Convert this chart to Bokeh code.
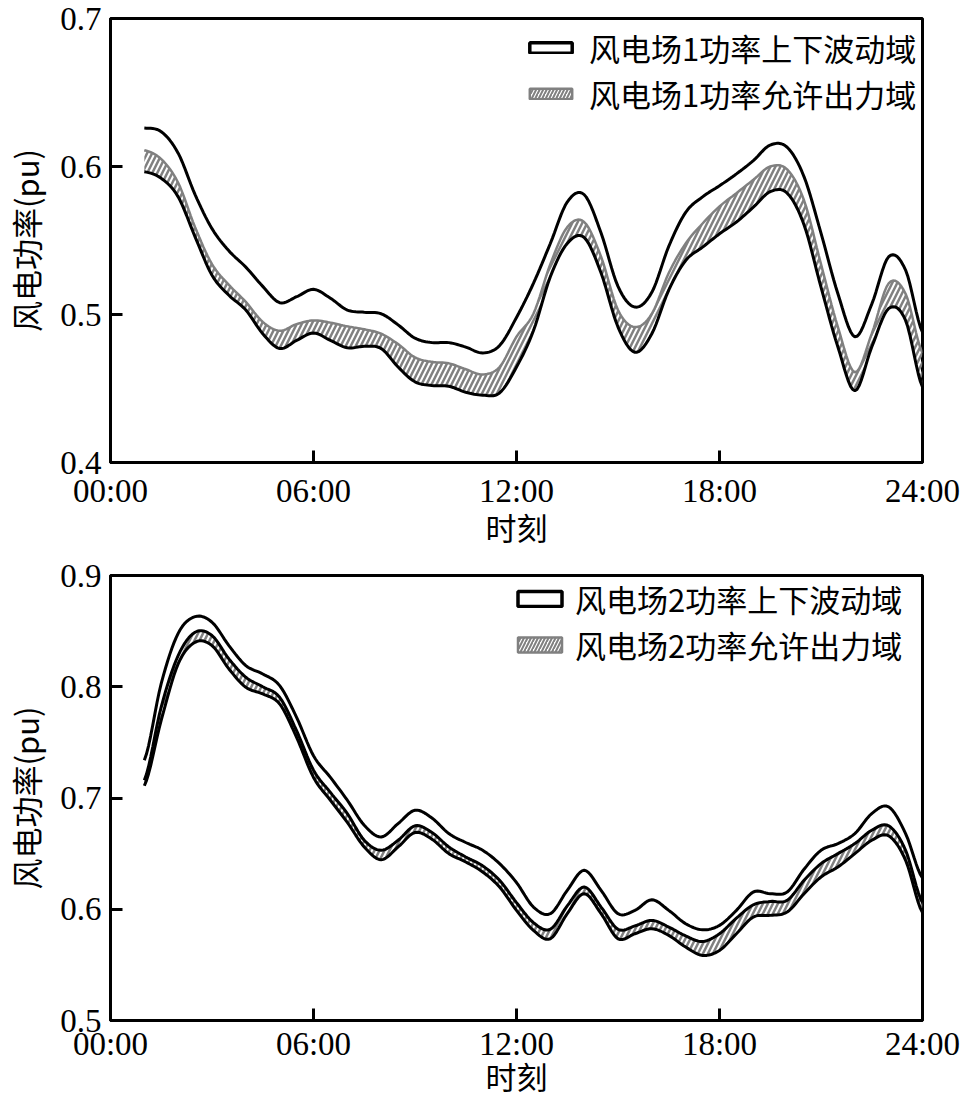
from bokeh.plotting import figure
from bokeh.layouts import column
from bokeh.models import FixedTicker, Legend, LegendItem, ColumnDataSource, Range1d
from bokeh.embed import file_html
from bokeh.resources import INLINE

# ---------------- data ----------------
hours = [1.0, 1.5, 2.0, 2.5, 3.0, 3.5, 4.0, 4.5, 5.0, 5.5, 6.0, 6.5, 7.0, 7.5, 8.0, 8.5,
         9.0, 9.5, 10.0, 10.5, 11.0, 11.5, 12.0, 12.5, 13.0, 13.5, 14.0, 14.5, 15.0, 15.5,
         16.0, 16.5, 17.0, 17.5, 18.0, 18.5, 19.0, 19.5, 20.0, 20.5, 21.0, 21.5, 22.0, 22.5,
         23.0, 23.5, 24.0]

x_ticks = [0, 6, 12, 18, 24]
x_tick_labels = ["00:00", "06:00", "12:00", "18:00", "24:00"]

# wind farm 1
wf1_upper = [0.626, 0.6235, 0.609, 0.581, 0.558, 0.543, 0.532, 0.519, 0.508, 0.512, 0.517, 0.511,
             0.503, 0.5015, 0.5005, 0.493, 0.484, 0.481, 0.481, 0.478, 0.474, 0.479, 0.498, 0.521,
             0.548, 0.576, 0.581, 0.555, 0.519, 0.505, 0.515, 0.546, 0.569, 0.5795, 0.587, 0.595,
             0.604, 0.6145, 0.613, 0.593, 0.555, 0.514, 0.485, 0.507, 0.539, 0.530, 0.488]
wf1_allowed_top = [0.611, 0.605, 0.589, 0.559, 0.534, 0.520, 0.5085, 0.495, 0.489, 0.4935, 0.496, 0.4945,
                   0.492, 0.490, 0.487, 0.480, 0.471, 0.468, 0.467, 0.463, 0.4595, 0.4645, 0.485, 0.5005,
                   0.534, 0.559, 0.5625, 0.539, 0.503, 0.4915, 0.5005, 0.528, 0.548, 0.5615, 0.573, 0.582,
                   0.591, 0.600, 0.598, 0.577, 0.534, 0.4915, 0.461, 0.487, 0.521, 0.514, 0.474]
wf1_lower = [0.5965, 0.592, 0.5795, 0.5525, 0.5265, 0.513, 0.503, 0.487, 0.477, 0.4825, 0.4875, 0.4825,
             0.4775, 0.4785, 0.477, 0.4645, 0.4545, 0.452, 0.4515, 0.4475, 0.4455, 0.447, 0.4645, 0.489,
             0.5255, 0.548, 0.552, 0.528, 0.4915, 0.4745, 0.487, 0.5165, 0.5365, 0.5455, 0.5545, 0.5625,
             0.5725, 0.583, 0.582, 0.5605, 0.5185, 0.478, 0.4485, 0.478, 0.504, 0.496, 0.451]

# wind farm 2
wf2_upper = [0.734, 0.803, 0.848, 0.863, 0.858, 0.837, 0.819, 0.8115, 0.801, 0.7725, 0.738, 0.7185,
             0.698, 0.6755, 0.665, 0.677, 0.689, 0.682, 0.668, 0.660, 0.653, 0.641, 0.624, 0.602,
             0.596, 0.617, 0.635, 0.617, 0.596, 0.599, 0.6085, 0.599, 0.587, 0.5815, 0.5855, 0.599,
             0.6155, 0.614, 0.6155, 0.636, 0.653, 0.659, 0.668, 0.686, 0.692, 0.668, 0.628]
wf2_allowed_top = [0.716, 0.782, 0.828, 0.849, 0.846, 0.825, 0.8085, 0.800, 0.7905, 0.7605, 0.725, 0.705,
                   0.686, 0.662, 0.653, 0.662, 0.675, 0.669, 0.656, 0.647, 0.639, 0.626, 0.606, 0.588,
                   0.582, 0.603, 0.620, 0.602, 0.582, 0.585, 0.590, 0.584, 0.576, 0.571, 0.578, 0.592,
                   0.604, 0.607, 0.608, 0.626, 0.641, 0.650, 0.659, 0.671, 0.675, 0.653, 0.606]
wf2_lower = [0.711, 0.770, 0.8205, 0.840, 0.837, 0.816, 0.7995, 0.7935, 0.7845, 0.7545, 0.7185, 0.698,
             0.678, 0.656, 0.6445, 0.656, 0.669, 0.663, 0.650, 0.6425, 0.6335, 0.620, 0.599, 0.581,
             0.5735, 0.596, 0.614, 0.596, 0.5735, 0.578, 0.5825, 0.5765, 0.566, 0.5585, 0.563, 0.578,
             0.593, 0.5945, 0.5975, 0.614, 0.629, 0.638, 0.650, 0.662, 0.666, 0.644, 0.597]

labels1 = ["风电场1功率上下波动域", "风电场1功率允许出力域"]
labels2 = ["风电场2功率上下波动域", "风电场2功率允许出力域"]
y_ticks1 = [0.4, 0.5, 0.6, 0.7]
y_ticks2 = [0.5, 0.6, 0.7, 0.8, 0.9]
x_label = "时刻"
y_label = "风电功率(pu)"

CJK = "Noto Sans CJK SC"
SERIF = "Liberation Serif"
HATCH = "#808080"


def smooth(xs, ys, n=8):
    """Catmull-Rom rendering of a curve through the read points (like a spline-connected line)."""
    ox, oy = [], []
    m = len(xs)
    for i in range(m - 1):
        p0 = ys[i - 1] if i > 0 else ys[i]
        p1, p2 = ys[i], ys[i + 1]
        p3 = ys[i + 2] if i + 2 < m else ys[i + 1]
        for k in range(n):
            t = k / n
            t2, t3 = t * t, t * t * t
            y = 0.5 * ((2 * p1) + (-p0 + p2) * t + (2 * p0 - 5 * p1 + 4 * p2 - p3) * t2
                       + (-p0 + 3 * p1 - 3 * p2 + p3) * t3)
            ox.append(xs[i] + (xs[i + 1] - xs[i]) * t)
            oy.append(y)
    ox.append(xs[-1])
    oy.append(ys[-1])
    return ox, oy


def make_fig(height, yr, yticks, upper, atop, lower, labels, top_border, bottom_border,
             gray_visible, glyph_w, glyph_h, leg_standoff, leg_locs, tick_standoff, label_standoff):
    p = figure(width=963, height=height, x_range=Range1d(0, 24), y_range=Range1d(*yr),
               output_backend="svg", toolbar_location=None,
               min_border_left=106, min_border_right=41,
               min_border_top=top_border, min_border_bottom=bottom_border)
    p.grid.visible = False
    p.outline_line_color = "black"
    p.outline_line_width = 3
    p.background_fill_color = "white"

    sx, s_up = smooth(hours, upper)
    _, s_at = smooth(hours, atop)
    _, s_lo = smooth(hours, lower)
    src = ColumnDataSource(dict(h=sx, up=s_up, at=s_at, lo=s_lo))
    p.varea(x="h", y1="lo", y2="at", source=src, fill_color="white", fill_alpha=0,
            hatch_pattern="/", hatch_color=HATCH, hatch_weight=2.5, hatch_scale=10)
    if gray_visible:
        p.line("h", "at", source=src, line_color=HATCH, line_width=2.5)
    else:
        p.line("h", "at", source=src, line_color="black", line_width=3)
    p.line("h", "up", source=src, line_color="black", line_width=3)
    p.line("h", "lo", source=src, line_color="black", line_width=3)

    # legend proxies (placed outside the visible range)
    r1 = p.quad(left=[-10], right=[-9], top=[0], bottom=[-1], fill_color="white",
                line_color="black", line_width=3.5)
    r2 = p.quad(left=[-10], right=[-9], top=[0], bottom=[-1], fill_color="white",
                line_color=HATCH, line_width=2.5, hatch_pattern="/",
                hatch_color=HATCH, hatch_weight=2, hatch_scale=7)
    for lab, rend, loc in zip(labels, (r1, r2), leg_locs):
        leg = Legend(items=[LegendItem(label=lab, renderers=[rend])],
                     location=loc, label_text_font=CJK, label_text_font_size="31px",
                     label_text_color="black",
                     glyph_width=glyph_w, glyph_height=glyph_h, label_standoff=leg_standoff,
                     padding=0, margin=0, border_line_alpha=0, background_fill_alpha=0)
        p.add_layout(leg)

    p.xaxis.ticker = FixedTicker(ticks=x_ticks)
    p.xaxis.major_label_overrides = {t: s for t, s in zip(x_ticks, x_tick_labels)}
    p.yaxis.ticker = FixedTicker(ticks=yticks)
    for ax in (p.xaxis[0], p.yaxis[0]):
        ax.axis_line_width = 3
        ax.major_tick_line_width = 3
        ax.major_tick_in = 12
        ax.major_tick_out = 0
        ax.minor_tick_line_color = None
        ax.major_label_text_font = SERIF
        ax.major_label_text_font_size = "33px"
        ax.major_label_text_color = "black"
        ax.axis_label_text_font = CJK
        ax.axis_label_text_font_size = "31px"
        ax.axis_label_text_font_style = "normal"
        ax.axis_label_text_color = "black"
    p.xaxis.axis_label = x_label
    p.yaxis.axis_label = y_label
    p.xaxis.major_label_standoff = tick_standoff
    p.xaxis.axis_label_standoff = label_standoff
    p.yaxis.major_label_standoff = 9
    p.yaxis.axis_label_standoff = 9
    return p


p1 = make_fig(552, (0.4, 0.7), y_ticks1, wf1_upper, wf1_allowed_top, wf1_lower, labels1,
              18, 90, True, 53, 13, 12, [(414, 392), (414, 346)], 10, -8)
p2 = make_fig(549, (0.5, 0.9), y_ticks2, wf2_upper, wf2_allowed_top, wf2_lower, labels2,
              23, 81, False, 55, 19, 8, [(402, 399), (402, 353)], 5, -12)

layout = column(p1, p2, spacing=0)
open("out.html", "w").write(file_html(layout, INLINE))
